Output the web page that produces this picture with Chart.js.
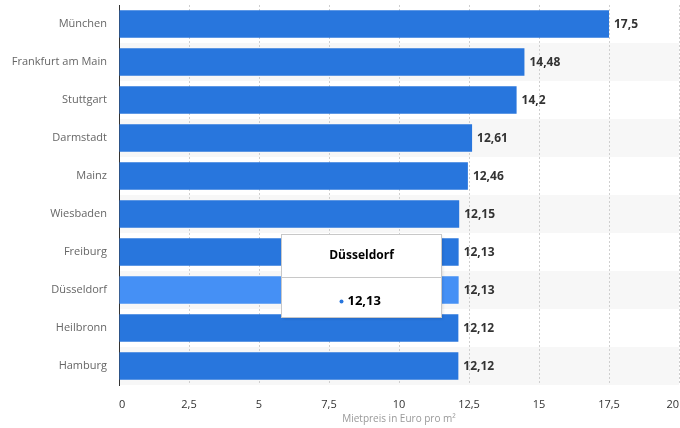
<!DOCTYPE html>
<html lang="de">
<head>
<meta charset="utf-8">
<title>Mietpreise</title>
<script src="https://cdn.jsdelivr.net/npm/chart.js@4"></script>
<style>
  html, body { margin: 0; padding: 0; background: #fff; }
  #wrap { width: 680px; height: 428px; position: relative; }
</style>
</head>
<body>
<div id="wrap"><canvas id="Graph"></canvas></div>
<script>
// Städte und Mietpreise (Euro pro m²)
const cities = ['München', 'Frankfurt am Main', 'Stuttgart', 'Darmstadt', 'Mainz',
                'Wiesbaden', 'Freiburg', 'Düsseldorf', 'Heilbronn', 'Hamburg'];
const rents = [17.5, 14.48, 14.2, 12.61, 12.46, 12.15, 12.13, 12.13, 12.12, 12.12];
const xTicks = [0, 2.5, 5, 7.5, 10, 12.5, 15, 17.5, 20];
const activeIndex = 7; // Düsseldorf (hover)

const FONT = '"Open Sans", "Liberation Sans", sans-serif';
const barColor = '#2876dd';
const hoverColor = '#4590f5';

const fmt = (v) => v.toLocaleString('de-DE');

// alternating row bands, drawn before the grid so the grid stays visible
const bandPlugin = {
    id: 'bands',
    beforeDraw(chart) {
        const { ctx, chartArea, scales: { y } } = chart;
        const step = (y.getPixelForValue(1) - y.getPixelForValue(0));
        ctx.save();
        ctx.fillStyle = '#f7f7f7';
        cities.forEach((c, i) => {
            if (i % 2 === 1) {
                const cy = y.getPixelForValue(i);
                ctx.fillRect(chartArea.left, cy - step / 2, chartArea.right - chartArea.left, step);
            }
        });
        ctx.restore();
    }
};

// value labels at the end of each bar
const labelPlugin = {
    id: 'valueLabels',
    afterDatasetsDraw(chart) {
        const { ctx } = chart;
        const meta = chart.getDatasetMeta(0);
        ctx.save();
        ctx.font = 'bold 12px ' + FONT;
        ctx.fillStyle = '#333';
        ctx.textBaseline = 'middle';
        meta.data.forEach((bar, i) => {
            ctx.fillText(fmt(rents[i]), bar.x + 5, bar.y + 1);
        });
        ctx.restore();
    }
};

// static tooltip box for the hovered bar
const tooltipPlugin = {
    id: 'fixedTooltip',
    afterDraw(chart) {
        const { ctx } = chart;
        const bar = chart.getDatasetMeta(0).data[activeIndex];
        const w = 160, h = 83;
        const left = 281.5, top = Math.round(bar.y - 56) + 0.5;
        ctx.save();
        ctx.shadowColor = 'rgba(0,0,0,0.15)';
        ctx.shadowBlur = 3;
        ctx.shadowOffsetX = 1;
        ctx.shadowOffsetY = 1;
        ctx.fillStyle = '#fff';
        ctx.fillRect(left, top, w, h);
        ctx.shadowColor = 'transparent';
        ctx.strokeStyle = '#c8c8c8';
        ctx.lineWidth = 1;
        ctx.strokeRect(left, top, w, h);
        ctx.beginPath();
        ctx.moveTo(left, top + 43);
        ctx.lineTo(left + w, top + 43);
        ctx.stroke();

        ctx.fillStyle = '#000';
        ctx.textAlign = 'center';
        ctx.textBaseline = 'middle';
        ctx.font = 'bold 12px ' + FONT;
        ctx.fillText(cities[activeIndex], left + w / 2, top + 21);

        ctx.font = 'bold 13px ' + FONT;
        ctx.textAlign = 'left';
        ctx.fillText(fmt(rents[activeIndex]), left + 66, top + 67);
        ctx.fillStyle = barColor;
        ctx.beginPath();
        ctx.arc(left + 60, top + 67, 2, 0, Math.PI * 2);
        ctx.fill();
        ctx.restore();
    }
};

// drop the automatic label padding so the plot area spans the full canvas
function noPadding(scale) {
    scale.paddingLeft = 0;
    scale.paddingRight = 0;
    scale.paddingTop = 0;
    scale.paddingBottom = 0;
}

const colors = rents.map((v, i) => i === activeIndex ? hoverColor : barColor);

const ctx = document.getElementById('Graph').getContext('2d');
new Chart(ctx, {
    type: 'bar',
    data: {
        labels: cities,
        datasets: [{
            data: rents,
            backgroundColor: colors,
            borderWidth: 0,
            categoryPercentage: 1,
            barPercentage: 0.72
        }]
    },
    options: {
        indexAxis: 'y',
        responsive: true,
        maintainAspectRatio: false,
        animation: false,
        layout: { padding: { top: 5, right: 1, left: 0, bottom: 0 } },
        plugins: {
            legend: { display: false },
            tooltip: { enabled: false }
        },
        scales: {
            x: {
                min: 0,
                max: 20,
                afterBuildTicks(scale) {
                    scale.ticks = xTicks.map(v => ({ value: v }));
                },
                afterFit(scale) {
                    scale.height = 43;
                    noPadding(scale);
                },
                ticks: {
                    align: 'inner',
                    padding: 13,
                    color: '#333',
                    font: { family: FONT, size: 11 },
                    callback: (v) => fmt(v)
                },
                grid: {
                    color: '#cfcfcf',
                    drawTicks: false
                },
                border: { display: false, dash: [2, 2] },
                title: {
                    display: true,
                    text: 'Mietpreis in Euro pro m²',
                    color: '#999',
                    font: { family: FONT, size: 10 },
                    padding: { top: 0, bottom: 3 }
                }
            },
            y: {
                afterFit(scale) {
                    scale.width = 119;
                    noPadding(scale);
                },
                ticks: {
                    padding: 12,
                    color: '#666',
                    font: { family: FONT, size: 11 }
                },
                grid: { display: false, drawTicks: false },
                border: { display: true, color: '#333', width: 1 }
            }
        }
    },
    plugins: [bandPlugin, labelPlugin, tooltipPlugin]
});
</script>
</body>
</html>
